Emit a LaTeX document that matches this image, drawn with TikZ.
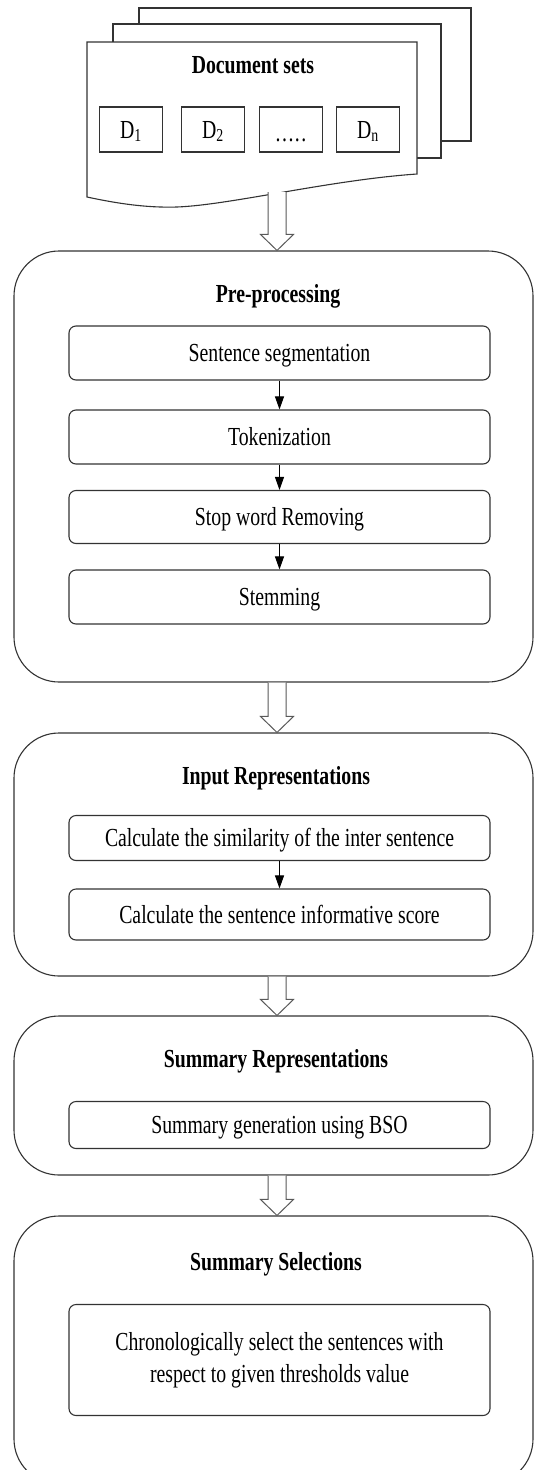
\documentclass[tikz,border=0pt]{standalone}
\usepackage{fontspec}
\setmainfont{Liberation Serif}[FakeStretch=0.76]
\usetikzlibrary{arrows.meta,calc}
\newcommand\fatarr[2]{%
  \fill[white] let \p1=(#1), \p2=(#2) in
    (\x1-9pt,\y1) -- (\x1-9pt,\y2+16pt) -- (\x1-16.5pt,\y2+16pt) -- (\x1,\y2)
    -- (\x1+16.5pt,\y2+16pt) -- (\x1+9pt,\y2+16pt) -- (\x1+9pt,\y1) -- cycle;
  \draw[fat] let \p1=(#1), \p2=(#2) in
    (\x1-9pt,\y1) -- (\x1-9pt,\y2+16pt) -- (\x1-16.5pt,\y2+16pt) -- (\x1,\y2)
    -- (\x1+16.5pt,\y2+16pt) -- (\x1+9pt,\y2+16pt) -- (\x1+9pt,\y1);}
\begin{document}
\begin{tikzpicture}[x=1pt,y=-1pt,
  sheet/.style={draw=black!80, line width=1.1pt, fill=white},
  dbox/.style={draw=black!80, line width=1.1pt, minimum width=63pt, minimum height=45pt,
    inner sep=0pt, text height=17pt, text depth=0pt, font=\fontsize{26}{30}\selectfont},
  outer/.style={draw=black!80, line width=1.1pt, rounded corners=45pt, inner sep=0pt, minimum width=519pt},
  pbox/.style={draw=black!80, line width=1.1pt, rounded corners=7pt, minimum width=421pt,
    inner sep=0pt, font=\fontsize{26}{32}\selectfont},
  pline/.style={pbox, text height=17pt, text depth=0pt},
  title/.style={font=\bfseries\fontsize{26}{30}\selectfont, anchor=base, inner sep=0pt},
  flow/.style={-{Triangle[length=13pt,width=9pt]}, line width=1pt, black},
  fat/.style={draw=black!65, line width=1pt}]
\useasboundingbox (0,0) rectangle (533,1470);
\fill[white] (0,0) rectangle (533,1470);

% document stack
\draw[sheet] (139,8) rectangle (471,141);
\draw[sheet] (113,24) rectangle (441,158);
\draw[sheet] (87,42) -- (417,42) -- (417,174) .. controls (330,180) and (230,205) .. (177,207)
  .. controls (145,208) and (115,203) .. (87,197) -- cycle;
\node[title] (doctitle) at (253,73) {Document sets};
\node[dbox] (d1) at (131,129.5) {D\textsubscript{1}};
\node[dbox] (d2) at (213,129.5) {D\textsubscript{2}};
\node[dbox] (dd) at (291,129.5) {\raisebox{-3pt}{.\hspace{1.5pt}.\hspace{1.5pt}.\hspace{1.5pt}.\hspace{1.5pt}.}};
\node[dbox] (dn) at (368,129.5) {D\textsubscript{n}};
\coordinate (docbot) at (277,192);

% Pre-processing
\node[outer, minimum height=431pt] (pre) at (273.5,466.5) {};
\node[title] (pretitle) at (278,302) {Pre-processing};
\node[pline, minimum height=54pt] (seg) at (279.5,353) {Sentence segmentation};
\node[pline, minimum height=54pt] (tok) at (279.5,437) {Tokenization};
\node[pline, minimum height=53pt] (stop) at (279.5,517) {Stop word Removing};
\node[pline, minimum height=54pt] (stem) at (279.5,597) {Stemming};
\draw[flow] (seg) -- (tok);
\draw[flow] (tok) -- (stop);
\draw[flow] (stop) -- (stem);

% Input Representations
\node[outer, minimum height=243pt] (inp) at (273.5,854.5) {};
\node[title] (inptitle) at (276,784) {Input Representations};
\node[pline, minimum height=45pt] (sim) at (279.5,838) {Calculate the similarity of the inter sentence};
\node[pline, minimum height=51pt] (score) at (279.5,914.5) {Calculate the sentence informative score};
\draw[flow] (sim) -- (score);

% Summary Representations
\node[outer, minimum height=159pt] (srep) at (273.5,1095.5) {};
\node[title] (sreptitle) at (276,1067.5) {Summary Representations};
\node[pline, minimum height=47pt] (bso) at (279.5,1125) {Summary generation using BSO};

% Summary Selections
\node[outer, minimum height=268pt] (ssel) at (273.5,1350) {};
\node[title] (sseltitle) at (276,1270) {Summary Selections};
\node[pbox, minimum height=111pt, align=center] (chrono) at (279.5,1360)
  {Chronologically select the sentences with\\respect to given thresholds value};

% fat arrows
\fatarr{docbot}{$(pre.north)+(3.5,0)$}
\fatarr{$(pre.south)+(3.5,0)$}{$(inp.north)+(3.5,0)$}
\fatarr{$(inp.south)+(3.5,0)$}{$(srep.north)+(3.5,0)$}
\fatarr{$(srep.south)+(3.5,0)$}{$(ssel.north)+(3.5,0)$}
\end{tikzpicture}
\end{document}
